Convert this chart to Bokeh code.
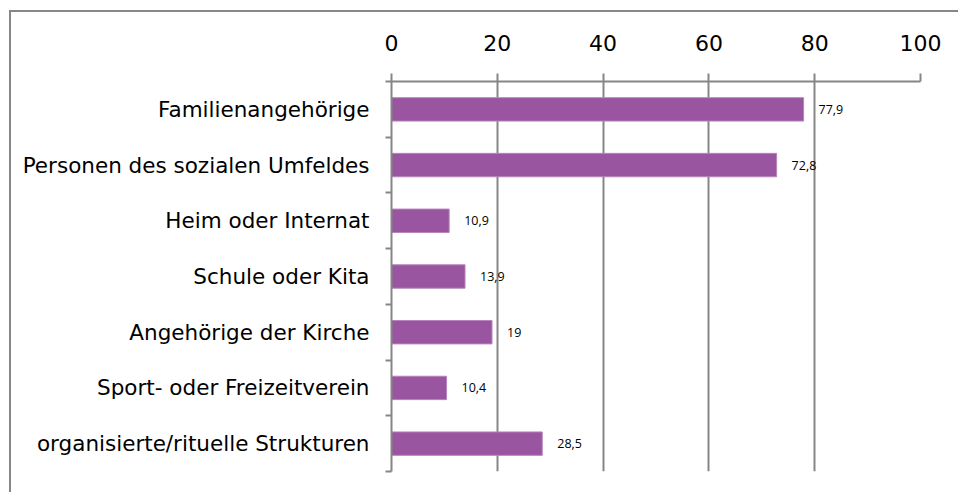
from bokeh.plotting import figure
from bokeh.models import Range1d, FixedTicker, ColumnDataSource, LabelSet
from bokeh.core.properties import value
from bokeh.embed import file_html
from bokeh.resources import INLINE

categories = ["Familienangehörige", "Personen des sozialen Umfeldes", "Heim oder Internat",
              "Schule oder Kita", "Angehörige der Kirche", "Sport- oder Freizeitverein",
              "organisierte/rituelle Strukturen"]
values = [77.9, 72.8, 10.9, 13.9, 19, 10.4, 28.5]
x_ticks = [0, 20, 40, 60, 80, 100]

n = len(categories)
pos = [i + 0.5 for i in range(n)]
labels = [f"{v:g}".replace(".", ",") for v in values]
src = ColumnDataSource(dict(y=pos, v=values, lab=labels))

GRAY = "#868686"
p = figure(width=947, height=480, output_backend="svg", toolbar_location=None,
           x_range=Range1d(0, 100), y_range=Range1d(n, 0),
           x_axis_location="above",
           frame_width=529, frame_height=390,
           min_border_left=380, min_border_top=69, min_border_right=38, min_border_bottom=21)
p.outline_line_color = None
p.background_fill_color = "white"
p.border_fill_color = "white"
p.styles = {"margin-left": "9px", "margin-top": "10px",
            "border-left": "2px solid #878787", "border-top": "2px solid #878787"}

p.hbar(y="y", right="v", left=0, height=0.42, source=src,
       fill_color="#9A55A0", line_color="#B884BC", line_width=1)

p.add_layout(LabelSet(x="v", y="y", text="lab", source=src, x_offset=15,
                      text_baseline="middle", text_align="left",
                      text_font=value("Open Sans"), text_font_size="12.5px",
                      text_color="black"))

xa = p.xaxis[0]
xa.ticker = FixedTicker(ticks=x_ticks, minor_ticks=[])
xa.axis_line_color = GRAY
xa.axis_line_width = 2
xa.major_tick_line_color = GRAY
xa.major_tick_line_width = 2
xa.major_tick_out = 8
xa.major_tick_in = 0
xa.minor_tick_line_color = None
xa.major_label_text_font = "DejaVu Sans"
xa.major_label_text_font_size = "22px"
xa.major_label_text_color = "black"
xa.major_label_standoff = 23

ya = p.yaxis[0]
ya.ticker = FixedTicker(ticks=pos, minor_ticks=list(range(n + 1)))
ya.major_label_overrides = {pp: c for pp, c in zip(pos, categories)}
ya.axis_line_color = GRAY
ya.axis_line_width = 2
ya.major_tick_line_color = None
ya.major_tick_out = 0
ya.major_tick_in = 0
ya.minor_tick_line_color = GRAY
ya.minor_tick_line_width = 2
ya.minor_tick_out = 6
ya.minor_tick_in = 0
ya.major_label_text_font = "DejaVu Sans"
ya.major_label_text_font_size = "21.5px"
ya.major_label_text_color = "black"
ya.major_label_standoff = 16

p.xgrid.ticker = FixedTicker(ticks=x_ticks)
p.xgrid.grid_line_color = GRAY
p.xgrid.grid_line_width = 2
p.ygrid.grid_line_color = None

open("out.html", "w").write(file_html(p, INLINE))
